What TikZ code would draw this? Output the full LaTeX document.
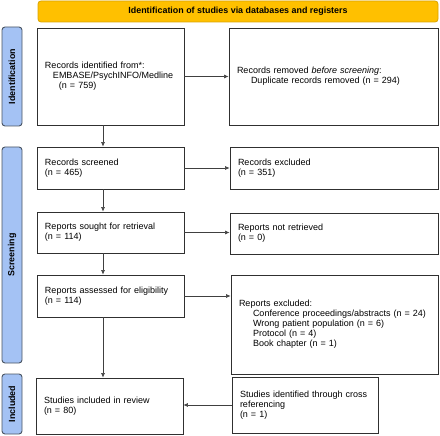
\documentclass[tikz,border=0pt]{standalone}
\usepackage{fontspec}
\setmainfont{Liberation Sans}
\usetikzlibrary{arrows.meta}
\definecolor{hdrfill}{HTML}{FFC000}
\definecolor{hdrdraw}{HTML}{D9A300}
\definecolor{sidefill}{HTML}{A4C2F4}
\definecolor{sidedraw}{HTML}{4A5563}
\definecolor{boxdraw}{HTML}{303030}
\definecolor{arrcol}{HTML}{404040}
\begin{document}
\begin{tikzpicture}[x=1pt,y=-1pt,
  every node/.style={font=\fontsize{9}{10}\selectfont},
  box/.style={draw=boxdraw, line width=0.8pt, rectangle, inner xsep=8pt, inner ysep=0pt, align=left, fill=white},
  hdr/.style={draw=hdrdraw, fill=hdrfill, line width=0.8pt, rounded corners=3pt, minimum width=400pt, minimum height=21pt, font=\fontsize{8.9}{10}\selectfont\bfseries},
  side/.style={draw=sidedraw, fill=sidefill, line width=0.9pt, rounded corners=3pt, minimum width=20pt, rotate=90, font=\fontsize{8.9}{10}\selectfont\bfseries, inner sep=0pt},
  arr/.style={draw=arrcol, line width=0.6pt, -{Latex[length=4.5pt,width=4pt]}}
]
\useasboundingbox (0,0) rectangle (440,436);

\node[hdr] (hdr) at (238,11.5) {Identification of studies via databases and registers};

\node[side, minimum width=99pt, minimum height=20pt] (sid) at (12,76.5) {Identification};
\node[side, minimum width=216pt, minimum height=20pt] (sscr) at (12,255) {Screening};
\node[side, minimum width=60pt, minimum height=20pt] (sinc) at (12,404) {Included};

\node[box, minimum width=147pt, minimum height=97pt, text width=131pt] (b1) at (110.5,76.5)
  {Records identified from*:\\\hspace*{8pt}EMBASE/PsychINFO/Medline\\\hspace*{14pt}(n = 759)\\[4pt]};
\node[box, minimum width=209pt, minimum height=97pt, text width=193pt] (b2) at (333.5,76.5)
  {Records removed \emph{before screening}:\\\hspace*{14pt}Duplicate records removed (n = 294)\\[4pt]};

\node[box, minimum width=147pt, minimum height=42pt, text width=131pt] (b3) at (110.5,168)
  {Records screened\\(n = 465)};
\node[box, minimum width=208pt, minimum height=42pt, text width=192pt] (b4) at (334,168)
  {Records excluded\\(n = 351)};

\node[box, minimum width=147pt, minimum height=41pt, text width=131pt] (b5) at (110.5,232.5)
  {Reports sought for retrieval\\(n = 114)};
\node[box, minimum width=208pt, minimum height=41pt, text width=192pt] (b6) at (334,233.5)
  {Reports not retrieved\\(n = 0)};

\node[box, minimum width=147pt, minimum height=42pt, text width=131pt] (b7) at (110.5,296)
  {Reports assessed for eligibility\\(n = 114)};
\node[box, minimum width=207pt, minimum height=99pt, text width=191pt] (b8) at (334.5,324.5)
  {Reports excluded:\\
   \hspace*{14pt}Conference proceedings/abstracts (n = 24)\\
   \hspace*{14pt}Wrong patient population (n = 6)\\
   \hspace*{14pt}Protocol (n = 4)\\
   \hspace*{14pt}Book chapter (n = 1)};

\node[box, minimum width=147pt, minimum height=56pt, text width=131pt] (b9) at (109.5,406)
  {Studies included in review\\(n = 80)\\[3pt]};
\node[box, minimum width=146pt, minimum height=56pt, text width=130pt] (b10) at (305,405)
  {Studies identified through cross\\referencing\\(n = 1)};

\coordinate (vx) at (103,0);

\draw[arr] (b1.south -| vx) -- (b3.north -| vx);
\draw[arr] (b3.south -| vx) -- (b5.north -| vx);
\draw[arr] (b5.south -| vx) -- (b7.north -| vx);
\draw[arr] (b7.south -| vx) -- (b9.north -| vx);

\draw[arr] (b1.east) -- (b2.west);
\draw[arr] (b3.east) -- (b4.west);
\draw[arr] (b5.east) -- (b5.east -| b6.west);
\draw[arr] (b7.east) -- (b7.east -| b8.west);
\draw[arr] (b10.west) -- (b10.west -| b9.east);
\end{tikzpicture}
\end{document}
